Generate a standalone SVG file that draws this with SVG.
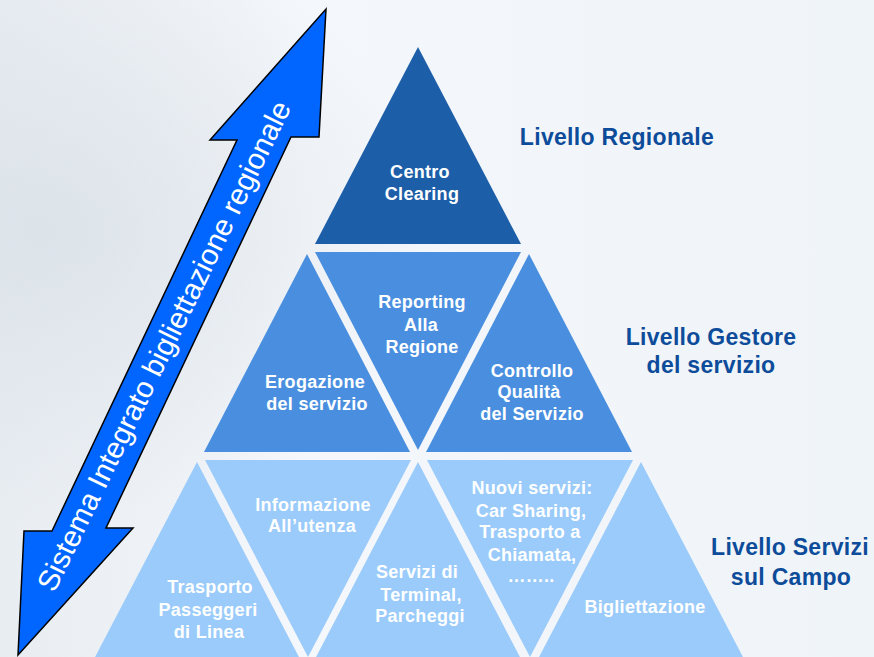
<svg xmlns="http://www.w3.org/2000/svg" width="874" height="657" viewBox="0 0 874 657">
  <defs>
    <linearGradient id="bg" x1="0" y1="0" x2="1" y2="0">
      <stop offset="0" stop-color="#E8EDF2"/>
      <stop offset="0.35" stop-color="#F4F7FB"/>
      <stop offset="1" stop-color="#EFF4F8"/>
    </linearGradient>
    <radialGradient id="cloud" cx="0.05" cy="0.35" r="0.45">
      <stop offset="0" stop-color="#D9E0E7" stop-opacity="0.8"/>
      <stop offset="1" stop-color="#D9E0E7" stop-opacity="0"/>
    </radialGradient>
    <style>
      .t1 { fill: #1D5EA8; }
      .t2 { fill: #4A8FDF; }
      .t3 { fill: #9ACBFA; }
      .tx { font-family: "Liberation Sans", Arial, sans-serif; font-weight: bold; font-size: 18px; letter-spacing: 0.3px; fill: #FFFFFF; text-anchor: middle; }
      .lv { font-family: "Liberation Sans", Arial, sans-serif; font-weight: bold; font-size: 23px; letter-spacing: 0.3px; fill: #0D4C9A; text-anchor: middle; }
      .ax { font-family: "Liberation Sans", Arial, sans-serif; font-size: 29.5px; fill: #FFFFFF; text-anchor: middle; }
    </style>
  </defs>

  <rect x="0" y="0" width="874" height="657" fill="url(#bg)"/>
  <rect x="0" y="0" width="874" height="657" fill="url(#cloud)"/>

  <g id="centro-clearing">
    <polygon class="t1" points="418,47 315,244 521,244"/>
    <text class="tx" x="420" y="178">Centro</text>
    <text class="tx" x="422" y="200">Clearing</text>
  </g>

  <g id="erogazione">
    <polygon class="t2" points="307,254 204,452 410,452"/>
    <text class="tx" x="315" y="388">Erogazione</text>
    <text class="tx" x="317" y="410">del servizio</text>
  </g>

  <g id="reporting">
    <polygon class="t2" points="315,252 521,252 418,450"/>
    <text class="tx" x="422" y="308">Reporting</text>
    <text class="tx" x="421" y="331">Alla</text>
    <text class="tx" x="422" y="353">Regione</text>
  </g>

  <g id="controllo">
    <polygon class="t2" points="529,254 426,452 632,452"/>
    <text class="tx" x="532" y="377">Controllo</text>
    <text class="tx" x="529" y="398">Qualità</text>
    <text class="tx" x="532" y="420">del Servizio</text>
  </g>

  <g id="trasporto">
    <polygon class="t3" points="197,462 94,659 300,659"/>
    <text class="tx" x="210" y="593">Trasporto</text>
    <text class="tx" x="208" y="616">Passeggeri</text>
    <text class="tx" x="209" y="638">di Linea</text>
  </g>

  <g id="informazione">
    <polygon class="t3" points="205,460 411,460 308,657"/>
    <text class="tx" x="313" y="511">Informazione</text>
    <text class="tx" x="312" y="532">All’utenza</text>
  </g>

  <g id="servizi-terminal">
    <polygon class="t3" points="418,462 315,659 521,659"/>
    <text class="tx" x="417" y="578">Servizi di</text>
    <text class="tx" x="421" y="601">Terminal,</text>
    <text class="tx" x="420" y="622">Parcheggi</text>
  </g>

  <g id="nuovi-servizi">
    <polygon class="t3" points="427,460 633,460 530,657"/>
    <text class="tx" x="532" y="494">Nuovi servizi:</text>
    <text class="tx" x="531" y="517">Car Sharing,</text>
    <text class="tx" x="530" y="538">Trasporto a</text>
    <text class="tx" x="532" y="561">Chiamata,</text>
    <text class="tx" x="531" y="582">……..</text>
  </g>

  <g id="bigliettazione">
    <polygon class="t3" points="641,462 538,659 744,659"/>
    <text class="tx" x="645" y="613">Bigliettazione</text>
  </g>

  <g id="livello-regionale">
    <text class="lv" x="617" y="145">Livello Regionale</text>
  </g>
  <g id="livello-gestore">
    <text class="lv" x="711" y="345">Livello Gestore</text>
    <text class="lv" x="711" y="373">del servizio</text>
  </g>
  <g id="livello-servizi">
    <text class="lv" x="790" y="555">Livello Servizi</text>
    <text class="lv" x="791" y="585">sul Campo</text>
  </g>

  <g id="connectors">
    <polygon points="326,9 319,137 291,137 106,528 133,528 18,655 24,531 52,531 237,140 210,140" fill="#0066FF" stroke="#000000" stroke-width="1.5" stroke-linejoin="miter"/>
    <text class="ax" x="164" y="346" dy="10" transform="rotate(-64 164 346)">Sistema Integrato bigliettazione regionale</text>
  </g>
</svg>
